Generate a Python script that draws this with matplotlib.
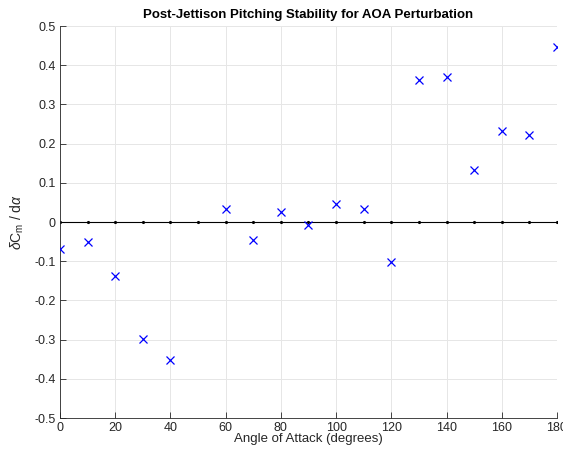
import numpy as np
import matplotlib
matplotlib.use('Agg')
import matplotlib.pyplot as plt

# angle of attack (deg) and pitching stability derivative
aoa = [0, 10, 20, 30, 40, 60, 70, 80, 90, 100, 110, 120, 130, 140, 150, 160, 170, 180]
dcm = [-0.069, -0.052, -0.138, -0.298, -0.352, 0.033, -0.047, 0.026, -0.008,
       0.046, 0.034, -0.101, 0.362, 0.370, 0.133, 0.232, 0.222, 0.447]

# reference line at zero
ref_x = [0, 10, 20, 30, 40, 50, 60, 70, 80, 90, 100, 110, 120, 130, 140, 150, 160, 170, 180]
ref_y = [0] * len(ref_x)

plt.rcParams['font.family'] = ['Liberation Sans', 'DejaVu Sans']
plt.rcParams['mathtext.fontset'] = 'custom'
plt.rcParams['mathtext.rm'] = 'Liberation Sans'
plt.rcParams['mathtext.it'] = 'Liberation Sans:italic'

fig = plt.figure(figsize=(5.63, 4.49), dpi=100)
ax = fig.add_axes([0.1066, 0.069, 0.8827, 0.873])

ax.plot(ref_x, ref_y, '-', color='black', linewidth=0.8, marker='.', markersize=2.5, zorder=2)
ax.plot(aoa, dcm, 'x', color='blue', markersize=5.5, markeredgewidth=0.9, zorder=3)

ax.set_xlim(0, 180)
ax.set_ylim(-0.5, 0.5)
ax.set_xticks(np.arange(0, 181, 20))
ax.set_yticks(np.arange(-0.5, 0.51, 0.1))
ax.set_yticklabels(['-0.5', '-0.4', '-0.3', '-0.2', '-0.1', '0',
                    '0.1', '0.2', '0.3', '0.4', '0.5'])

ax.grid(True, color='#e6e6e6', linewidth=0.7)
ax.set_axisbelow(True)
for s in ['top', 'right']:
    ax.spines[s].set_visible(False)
for s in ['left', 'bottom']:
    ax.spines[s].set_color('#262626')
    ax.spines[s].set_linewidth(0.6)
ax.tick_params(direction='in', length=4, width=0.6, colors='#262626',
               labelsize=9, pad=3)
ax.tick_params(axis='x', pad=3)

ax.set_title('Post-Jettison Pitching Stability for AOA Perturbation',
             fontsize=9.5, fontweight='bold', pad=6)
ax.set_xlabel('Angle of Attack (degrees)', fontsize=9.5, color='#262626', labelpad=-1)
ax.set_ylabel(r'$\delta$C$_\mathrm{m}$ / d$\alpha$', fontsize=10, color='#262626', labelpad=6)

plt.savefig('out.png', dpi=100)
